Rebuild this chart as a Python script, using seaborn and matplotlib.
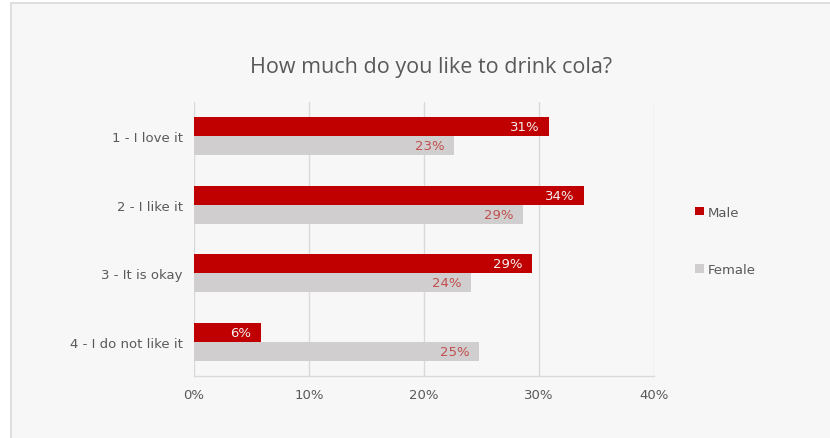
import matplotlib
matplotlib.use("Agg")
import matplotlib.pyplot as plt
from matplotlib.patches import Rectangle
from matplotlib.lines import Line2D
import seaborn as sns
import pandas as pd

# Survey answers and share of respondents (%) per gender
categories = ["1 - I love it", "2 - I like it", "3 - It is okay", "4 - I do not like it"]
male = [30.9, 33.9, 29.4, 5.8]
female = [22.6, 28.6, 24.1, 24.8]
groups = ["Male", "Female"]
x_ticks = [0, 10, 20, 30, 40]
x_tick_labels = ["0%", "10%", "20%", "30%", "40%"]

df = pd.DataFrame({
    "answer": categories * 2,
    "share": male + female,
    "gender": ["Male"] * len(categories) + ["Female"] * len(categories),
})

RED = "#C00000"
GREY = "#D0CECE"
TEXT = "#595959"
BG = "#F7F7F7"
GRID = "#D9D9D9"

sns.set_theme(style="white")
plt.rcParams["font.family"] = ["DejaVu Sans"]

fig = plt.figure(figsize=(8.3, 4.39), dpi=100)
fig.patch.set_facecolor("white")
# chart area panel; its border shows only on the top and left edges
x0, y1 = 11 / 830, 1 - 4 / 439
fig.patches.append(Rectangle((x0, 0), 1 - x0, y1, transform=fig.transFigure,
                             facecolor=BG, edgecolor="none", zorder=-10))
fig.lines.append(Line2D([x0, x0, 1], [0, y1, y1], transform=fig.transFigure,
                        color=GRID, linewidth=1.2))

ax = fig.add_axes([194 / 830, 1 - 377 / 439, 460 / 830, 274 / 439])
ax.set_facecolor(BG)

sns.barplot(data=df, y="answer", x="share", hue="gender", hue_order=groups,
            order=categories, palette=[RED, GREY], orient="h", width=0.555,
            dodge=True, saturation=1, linewidth=0, ax=ax, legend=True)

ax.set_xlim(0, 40)
ax.set_xticks(x_ticks)
ax.set_xticklabels(x_tick_labels)
ax.set_xlabel("")
ax.set_ylabel("")
ax.xaxis.grid(True, color=GRID, linewidth=1)
ax.set_axisbelow(True)
for side in ["top", "right", "left"]:
    ax.spines[side].set_visible(False)
ax.spines["bottom"].set_color(GRID)
ax.spines["bottom"].set_linewidth(1)
ax.tick_params(axis="x", length=0, pad=9, labelsize=9.5, labelcolor=TEXT)
ax.tick_params(axis="y", length=0, pad=8, labelsize=9.5, labelcolor=TEXT)

# value labels inside the bar ends
label_colors = {"Male": "#F2F2F2", "Female": "#C0504D"}
for gender, values, cont in zip(groups, [male, female], ax.containers):
    for patch, v in zip(cont.patches, values):
        yc = patch.get_y() + patch.get_height() / 2
        ax.annotate(f"{v:.0f}%", xy=(patch.get_width(), yc), xytext=(-7, 0),
                    textcoords="offset points", ha="right", va="center",
                    fontsize=9.5, color=label_colors[gender])

fig.text(431 / 830, 1 - 68 / 439, "How much do you like to drink cola?", fontsize=15.5,
         color=TEXT, family="Open Sans", ha="center", va="center")

handles, labels = ax.get_legend_handles_labels()
ax.legend_.remove()
fig.legend(handles, labels, loc="center left", bbox_to_anchor=(695 / 830, 1 - 242 / 439),
           frameon=False, fontsize=9.5, labelcolor=TEXT, handlelength=0.65,
           handleheight=0.65, handletextpad=0.3, labelspacing=3.4,
           borderaxespad=0, borderpad=0)

fig.savefig("out.png", dpi=100, facecolor=fig.get_facecolor())
